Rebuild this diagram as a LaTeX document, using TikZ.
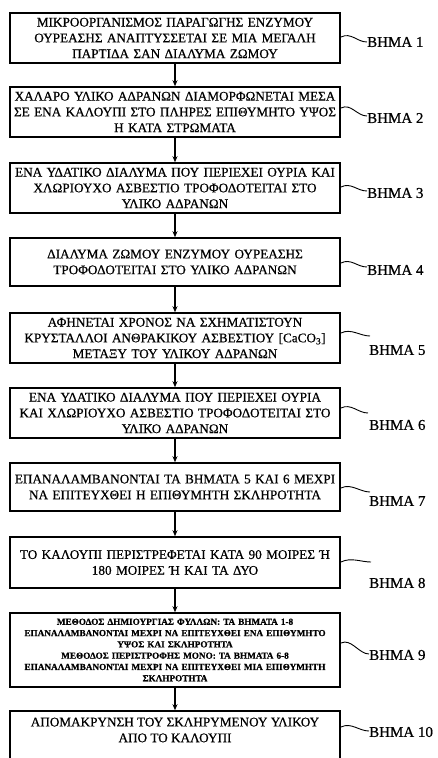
\documentclass[tikz,border=0pt]{standalone}
\usepackage{fontspec}
\setmainfont{Liberation Serif}[FakeBold=0.6]
\usetikzlibrary{arrows.meta}
\begin{document}
\begin{tikzpicture}[x=1pt,y=-1pt,
  stepbox/.style={draw, line width=1.6pt, text width=326pt, inner sep=2pt, align=center,
    font=\fontsize{13.2}{15.8}\selectfont},
  smallbox/.style={stepbox, font=\bfseries\fontsize{9.2}{11.3}\selectfont},
  boxtext/.style={align=center, inner sep=0pt, font=\fontsize{13.2}{15.8}\selectfont},
  steplabel/.style={anchor=west, inner sep=0pt, font=\fontsize{15}{17}\selectfont},
  flow/.style={line width=1.4pt, -{Stealth[length=6pt,width=5pt]}},
  squig/.style={line width=0.9pt}]
\useasboundingbox (0,0) rectangle (437,758);

\node[stepbox, minimum height=50pt] (b1) at (175,38)
  {ΜΙΚΡΟΟΡΓΑΝΙΣΜΟΣ ΠΑΡΑΓΩΓΗΣ ΕΝΖΥΜΟΥ\\ ΟΥΡΕΑΣΗΣ ΑΝΑΠΤΥΣΣΕΤΑΙ ΣΕ ΜΙΑ ΜΕΓΑΛΗ\\ ΠΑΡΤΙΔΑ ΣΑΝ ΔΙΑΛΥΜΑ ΖΩΜΟΥ};
\node[stepbox, minimum height=50pt] (b2) at (175,112)
  {ΧΑΛΑΡΟ ΥΛΙΚΟ ΑΔΡΑΝΩΝ ΔΙΑΜΟΡΦΩΝΕΤΑΙ ΜΕΣΑ\\ ΣΕ ΕΝΑ ΚΑΛΟΥΠΙ ΣΤΟ ΠΛΗΡΕΣ ΕΠΙΘΥΜΗΤΟ ΥΨΟΣ\\ Η ΚΑΤΑ ΣΤΡΩΜΑΤΑ};
\node[stepbox, minimum height=50pt] (b3) at (175,188)
  {ΕΝΑ ΥΔΑΤΙΚΟ ΔΙΑΛΥΜΑ ΠΟΥ ΠΕΡΙΕΧΕΙ ΟΥΡΙΑ ΚΑΙ\\ ΧΛΩΡΙΟΥΧΟ ΑΣΒΕΣΤΙΟ ΤΡΟΦΟΔΟΤΕΙΤΑΙ ΣΤΟ\\ ΥΛΙΚΟ ΑΔΡΑΝΩΝ};
\node[stepbox, minimum height=48pt] (b4) at (175,262)
  {ΔΙΑΛΥΜΑ ΖΩΜΟΥ ΕΝΖΥΜΟΥ ΟΥΡΕΑΣΗΣ\\ ΤΡΟΦΟΔΟΤΕΙΤΑΙ ΣΤΟ ΥΛΙΚΟ ΑΔΡΑΝΩΝ};
\node[stepbox, minimum height=50pt] (b5) at (175,338)
  {ΑΦΗΝΕΤΑΙ ΧΡΟΝΟΣ ΝΑ ΣΧΗΜΑΤΙΣΤΟΥΝ\\ ΚΡΥΣΤΑΛΛΟΙ ΑΝΘΡΑΚΙΚΟΥ ΑΣΒΕΣΤΙΟΥ [CaCO\textsubscript{3}]\\ ΜΕΤΑΞΥ ΤΟΥ ΥΛΙΚΟΥ ΑΔΡΑΝΩΝ};
\node[stepbox, minimum height=50pt] (b6) at (175,413)
  {ΕΝΑ ΥΔΑΤΙΚΟ ΔΙΑΛΥΜΑ ΠΟΥ ΠΕΡΙΕΧΕΙ ΟΥΡΙΑ\\ ΚΑΙ ΧΛΩΡΙΟΥΧΟ ΑΣΒΕΣΤΙΟ ΤΡΟΦΟΔΟΤΕΙΤΑΙ ΣΤΟ\\ ΥΛΙΚΟ ΑΔΡΑΝΩΝ};
\node[stepbox, minimum height=48pt] (b7) at (175,487)
  {ΕΠΑΝΑΛΑΜΒΑΝΟΝΤΑΙ ΤΑ ΒΗΜΑΤΑ 5 ΚΑΙ 6 ΜΕΧΡΙ\\ ΝΑ ΕΠΙΤΕΥΧΘΕΙ Η ΕΠΙΘΥΜΗΤΗ ΣΚΛΗΡΟΤΗΤΑ};
\node[stepbox, minimum height=51pt] (b8) at (175,562.5)
  {ΤΟ ΚΑΛΟΥΠΙ ΠΕΡΙΣΤΡΕΦΕΤΑΙ ΚΑΤΑ 90 ΜΟΙΡΕΣ Ή\\ 180 ΜΟΙΡΕΣ Ή ΚΑΙ ΤΑ ΔΥΟ};
\node[smallbox, minimum height=74pt] (b9) at (175,650)
  {ΜΕΘΟΔΟΣ ΔΗΜΙΟΥΡΓΙΑΣ ΦΥΛΛΩΝ: ΤΑ ΒΗΜΑΤΑ 1-8\\ ΕΠΑΝΑΛΑΜΒΑΝΟΝΤΑΙ ΜΕΧΡΙ ΝΑ ΕΠΙΤΕΥΧΘΕΙ ΕΝΑ ΕΠΙΘΥΜΗΤΟ\\ ΥΨΟΣ ΚΑΙ ΣΚΛΗΡΟΤΗΤΑ\\ ΜΕΘΟΔΟΣ ΠΕΡΙΣΤΡΟΦΗΣ ΜΟΝΟ: ΤΑ ΒΗΜΑΤΑ 6-8\\ ΕΠΑΝΑΛΑΜΒΑΝΟΝΤΑΙ ΜΕΧΡΙ ΝΑ ΕΠΙΤΕΥΧΘΕΙ ΜΙΑ ΕΠΙΘΥΜΗΤΗ\\ ΣΚΛΗΡΟΤΗΤΑ};
\node[stepbox, minimum height=64pt] (b10) at (175,743) {};
\node[boxtext] (t10) at (175,730)
  {ΑΠΟΜΑΚΡΥΝΣΗ ΤΟΥ ΣΚΛΗΡΥΜΕΝΟΥ ΥΛΙΚΟΥ\\ ΑΠΟ ΤΟ ΚΑΛΟΥΠΙ};

\foreach \a/\b in {b1/b2,b2/b3,b3/b4,b4/b5,b5/b6,b6/b7,b7/b8,b8/b9,b9/b10}
  \draw[flow] (\a) -- (\b);

\node[steplabel] (l1) at (367,42) {ΒΗΜΑ 1};
\node[steplabel] (l2) at (367,118) {ΒΗΜΑ 2};
\node[steplabel] (l3) at (367,193) {ΒΗΜΑ 3};
\node[steplabel] (l4) at (367,270) {ΒΗΜΑ 4};
\node[steplabel] (l5) at (369,350) {ΒΗΜΑ 5};
\node[steplabel] (l6) at (369,425) {ΒΗΜΑ 6};
\node[steplabel] (l7) at (369,501) {ΒΗΜΑ 7};
\node[steplabel] (l8) at (369,583) {ΒΗΜΑ 8};
\node[steplabel] (l9) at (369,655) {ΒΗΜΑ 9};
\node[steplabel] (l10) at (369,732) {ΒΗΜΑ 10};

\coordinate (s1) at (341,37);  \coordinate (e1) at (367,42);
\coordinate (s2) at (341,108); \coordinate (e2) at (367,116);
\coordinate (s3) at (341,187); \coordinate (e3) at (367,191);
\coordinate (s4) at (341,263); \coordinate (e4) at (367,267);
\coordinate (s5) at (341,333); \coordinate (e5) at (370,336);
\coordinate (s6) at (341,408); \coordinate (e6) at (368,413);
\coordinate (s7) at (341,488); \coordinate (e7) at (370,492);
\coordinate (s8) at (341,562); \coordinate (e8) at (371,562);
\coordinate (s9) at (341,643); \coordinate (e9) at (369,654);
\coordinate (s10) at (341,727); \coordinate (e10) at (369,731);
\foreach \i in {1,...,10}
  \draw[squig] (s\i) .. controls +(10,-5) and +(-10,0) .. (e\i);
\end{tikzpicture}
\end{document}
